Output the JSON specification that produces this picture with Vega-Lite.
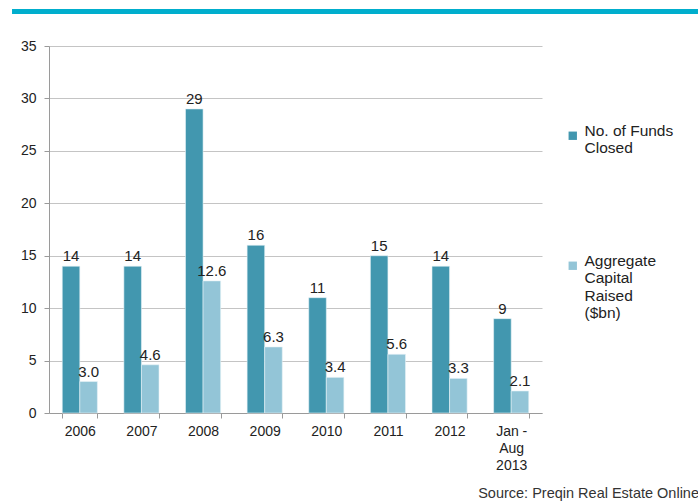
{
  "$schema": "https://vega.github.io/schema/vega-lite/v6.json",
  "width": 493,
  "height": 367,
  "autosize": "none",
  "padding": {"left": 49, "top": 46, "right": 156, "bottom": 91},
  "config": {
    "font": "Liberation Sans",
    "view": {"stroke": null},
    "axis": {"labelFont": "Liberation Sans", "labelColor": "#222222", "labelFontSize": 14}
  },
  "title": {
    "text": "Source: Preqin Real Estate Online",
    "orient": "bottom",
    "anchor": "end",
    "frame": "group",
    "fontSize": 14.5,
    "fontWeight": "normal",
    "color": "#333333",
    "offset": 15,
    "dx": 157
  },
  "datasets": {
    "main": [
      {"period": "2006", "series": "No. of Funds Closed", "value": 14},
      {"period": "2006", "series": "Aggregate Capital Raised ($bn)", "value": 3.0},
      {"period": "2007", "series": "No. of Funds Closed", "value": 14},
      {"period": "2007", "series": "Aggregate Capital Raised ($bn)", "value": 4.6},
      {"period": "2008", "series": "No. of Funds Closed", "value": 29},
      {"period": "2008", "series": "Aggregate Capital Raised ($bn)", "value": 12.6},
      {"period": "2009", "series": "No. of Funds Closed", "value": 16},
      {"period": "2009", "series": "Aggregate Capital Raised ($bn)", "value": 6.3},
      {"period": "2010", "series": "No. of Funds Closed", "value": 11},
      {"period": "2010", "series": "Aggregate Capital Raised ($bn)", "value": 3.4},
      {"period": "2011", "series": "No. of Funds Closed", "value": 15},
      {"period": "2011", "series": "Aggregate Capital Raised ($bn)", "value": 5.6},
      {"period": "2012", "series": "No. of Funds Closed", "value": 14},
      {"period": "2012", "series": "Aggregate Capital Raised ($bn)", "value": 3.3},
      {"period": "Jan - Aug 2013", "series": "No. of Funds Closed", "value": 9},
      {"period": "Jan - Aug 2013", "series": "Aggregate Capital Raised ($bn)", "value": 2.1}
    ],
    "band": [{"x0": -0.075, "x1": 1.3164, "y": 38.3}]
  },
  "resolve": {"scale": {"x": "independent"}},
  "layer": [
    {
      "data": {"name": "main"},
      "layer": [
        {
          "mark": {"type": "bar", "stroke": "#e6f2f6", "strokeWidth": 0.6},
          "encoding": {
            "x": {
              "field": "period", "type": "nominal", "sort": null,
              "scale": {"paddingInner": 0.43, "paddingOuter": 0.215},
              "axis": {
                "title": null, "labelAngle": 0, "tickBand": "extent",
                "domainColor": "#9a9a9a", "tickColor": "#9a9a9a", "tickSize": 5,
                "labelPadding": 6, "labelLineHeight": 17,
                "labelExpr": "datum.label == 'Jan - Aug 2013' ? ['Jan -', 'Aug', '2013'] : datum.label"
              }
            },
            "xOffset": {"field": "series", "type": "nominal", "sort": null},
            "y": {
              "field": "value", "type": "quantitative",
              "scale": {"domain": [0, 35], "nice": false},
              "axis": {
                "title": null, "values": [0, 5, 10, 15, 20, 25, 30, 35],
                "gridColor": "#c4c4c4", "domainColor": "#9a9a9a", "tickColor": "#9a9a9a",
                "tickSize": 5, "labelPadding": 8
              }
            },
            "color": {
              "field": "series", "type": "nominal", "sort": null,
              "scale": {"range": ["#4297af", "#93c5d7"]},
              "legend": {
                "title": null, "orient": "none", "legendX": 516, "legendY": 82,
                "symbolType": "square", "symbolSize": 70, "symbolStrokeWidth": 0,
                "labelFontSize": 15.5, "labelColor": "#222222", "labelBaseline": "alphabetic",
                "labelOffset": 4, "rowPadding": 96, "labelLimit": 200,
                "labelExpr": "datum.label == 'No. of Funds Closed' ? ['No. of Funds', 'Closed'] : ['Aggregate', 'Capital', 'Raised', '($bn)']",
                "encode": {
                  "labels": {
                    "dy": {"value": 5},
                    "lineHeight": {"value": 19}
                  }
                }
              }
            }
          }
        },
        {
          "transform": [{"filter": "datum.series == 'No. of Funds Closed'"}],
          "mark": {"type": "text", "baseline": "bottom", "dy": -2, "fontSize": 15, "color": "#222222"},
          "encoding": {
            "x": {"field": "period", "type": "nominal", "sort": null},
            "xOffset": {"field": "series", "type": "nominal", "sort": null},
            "y": {"field": "value", "type": "quantitative"},
            "text": {"field": "value", "type": "quantitative", "format": "d"}
          }
        },
        {
          "transform": [{"filter": "datum.series != 'No. of Funds Closed'"}],
          "mark": {"type": "text", "baseline": "bottom", "dy": -2, "fontSize": 15, "color": "#222222"},
          "encoding": {
            "x": {"field": "period", "type": "nominal", "sort": null},
            "xOffset": {"field": "series", "type": "nominal", "sort": null},
            "y": {"field": "value", "type": "quantitative"},
            "text": {"field": "value", "type": "quantitative", "format": ".1f"}
          }
        }
      ]
    },
    {
      "data": {"name": "band"},
      "mark": {"type": "rule", "color": "#00aecd", "strokeWidth": 5, "clip": false},
      "encoding": {
        "x": {"field": "x0", "type": "quantitative", "scale": {"domain": [0, 1], "nice": false, "zero": false}, "axis": null},
        "x2": {"field": "x1"},
        "y": {"field": "y", "type": "quantitative"}
      }
    }
  ]
}
